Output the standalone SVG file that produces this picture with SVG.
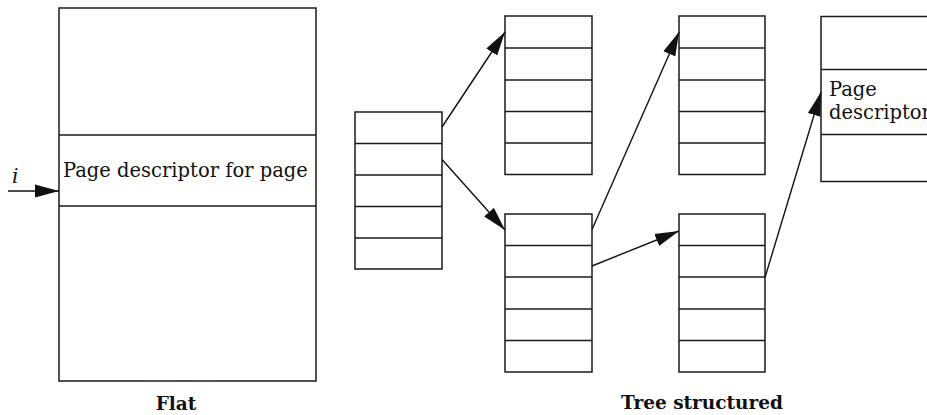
<svg xmlns="http://www.w3.org/2000/svg" width="927" height="415" viewBox="0 0 927 415">
<style>
.box{fill:#fff;stroke:#1a1a1a;stroke-width:1.5}
.div{stroke:#1a1a1a;stroke-width:1.5}
.edge{stroke:#111;stroke-width:1.4;fill:none;marker-end:url(#ah)}
.t{font-family:"DejaVu Serif",serif;font-size:19.5px;fill:#111}
.b{font-family:"DejaVu Serif",serif;font-size:18.5px;font-weight:bold;fill:#111;text-anchor:middle}
</style>
<defs>
<marker id="ah" markerUnits="userSpaceOnUse" markerWidth="25" markerHeight="14" refX="24" refY="7" orient="auto">
<path d="M0,0.5 L24,7 L0,13.5 z" fill="#111"/>
</marker>
</defs>
<rect width="927" height="415" fill="#fff"/>
<g id="flat">
<rect class="box" x="59" y="8" width="257" height="373"/>
<line class="div" x1="59" y1="135" x2="316" y2="135"/>
<line class="div" x1="59" y1="206" x2="316" y2="206"/>
<text class="t" x="63" y="177">Page descriptor for page</text>
</g>
<g id="root">
<rect class="box" x="355" y="112" width="87" height="157"/>
<line class="div" x1="355" y1="143.5" x2="442" y2="143.5"/>
<line class="div" x1="355" y1="175" x2="442" y2="175"/>
<line class="div" x1="355" y1="206.5" x2="442" y2="206.5"/>
<line class="div" x1="355" y1="238" x2="442" y2="238"/>
</g>
<g id="tableA">
<rect class="box" x="505" y="16" width="87" height="158.5"/>
<line class="div" x1="505" y1="48" x2="592" y2="48"/>
<line class="div" x1="505" y1="80" x2="592" y2="80"/>
<line class="div" x1="505" y1="111.5" x2="592" y2="111.5"/>
<line class="div" x1="505" y1="143" x2="592" y2="143"/>
</g>
<g id="tableB">
<rect class="box" x="505" y="214" width="87" height="158"/>
<line class="div" x1="505" y1="245.5" x2="592" y2="245.5"/>
<line class="div" x1="505" y1="277" x2="592" y2="277"/>
<line class="div" x1="505" y1="309" x2="592" y2="309"/>
<line class="div" x1="505" y1="340.5" x2="592" y2="340.5"/>
</g>
<g id="tableC">
<rect class="box" x="679" y="16" width="86" height="158.5"/>
<line class="div" x1="679" y1="48" x2="765" y2="48"/>
<line class="div" x1="679" y1="80" x2="765" y2="80"/>
<line class="div" x1="679" y1="111.5" x2="765" y2="111.5"/>
<line class="div" x1="679" y1="143" x2="765" y2="143"/>
</g>
<g id="tableD">
<rect class="box" x="679" y="214" width="86" height="158"/>
<line class="div" x1="679" y1="245.5" x2="765" y2="245.5"/>
<line class="div" x1="679" y1="277" x2="765" y2="277"/>
<line class="div" x1="679" y1="309" x2="765" y2="309"/>
<line class="div" x1="679" y1="340.5" x2="765" y2="340.5"/>
</g>
<g id="page">
<rect class="box" x="821" y="16.5" width="130" height="165"/>
<line class="div" x1="821" y1="69.5" x2="927" y2="69.5"/>
<line class="div" x1="821" y1="134.5" x2="927" y2="134.5"/>
<text class="t" x="829" y="95.5">Page</text>
<text class="t" x="829" y="119">descriptor</text>
</g>
<g id="connectors">
<line class="edge" x1="8" y1="191" x2="59" y2="191"/>
<line class="edge" x1="442" y1="127" x2="505" y2="32"/>
<line class="edge" x1="442" y1="159.5" x2="505" y2="230"/>
<line class="edge" x1="592" y1="229.5" x2="679" y2="32"/>
<line class="edge" x1="592" y1="266" x2="679" y2="231"/>
<line class="edge" x1="765" y1="277.5" x2="821" y2="92"/>
</g>
<text x="12" y="183" style="font-family:'DejaVu Serif',serif;font-size:20px;font-style:italic;fill:#111">i</text>
<text class="b" x="176" y="410">Flat</text>
<text class="b" x="702" y="409">Tree structured</text>
</svg>
